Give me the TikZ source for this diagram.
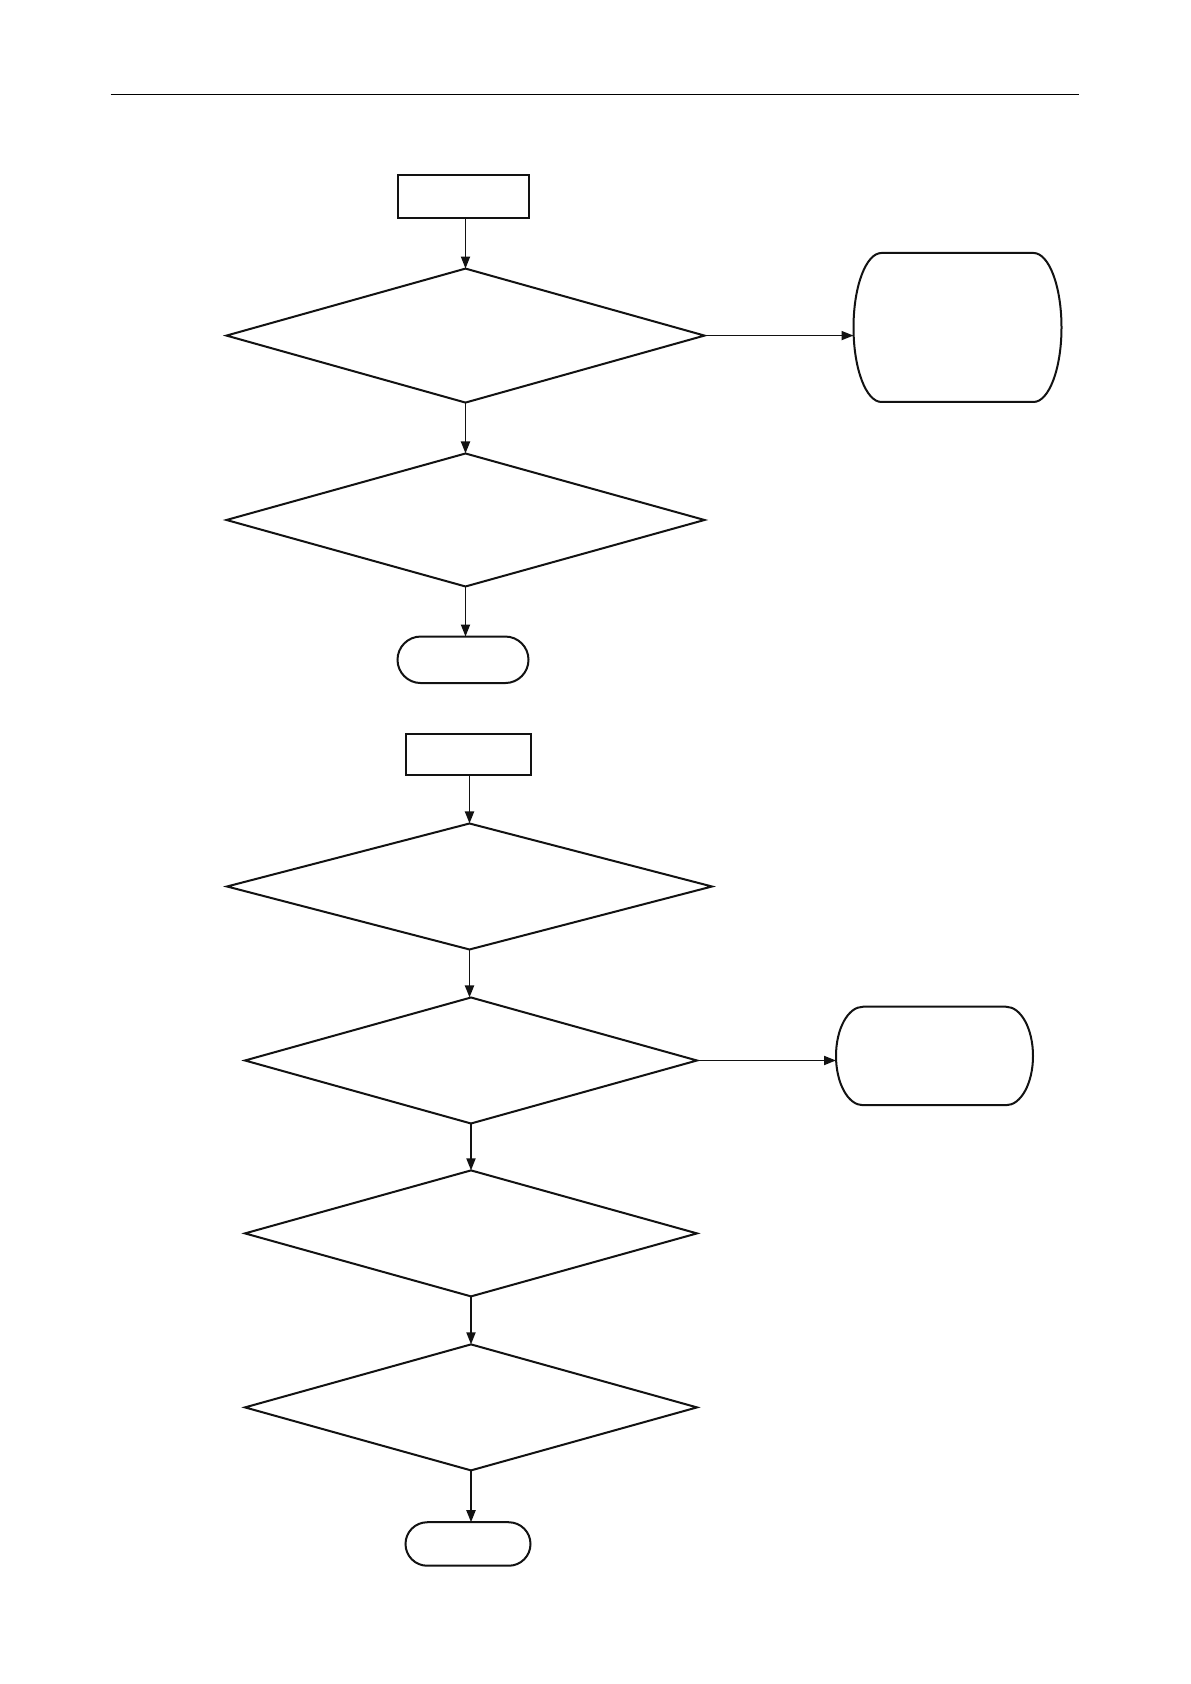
\documentclass[tikz,border=0pt]{standalone}
\usetikzlibrary{arrows.meta,calc,shapes.geometric,shapes.misc}
\definecolor{ShapeClr}{rgb}{0.07,0.07,0.07}

\begin{document}
\begin{tikzpicture}[x=1pt,y=1pt,line width=2pt,
  shapeline/.style={draw=ShapeClr,line width=2pt},
  stepbox/.style={shapeline,rectangle,inner sep=0pt,outer sep=0pt},
  testbox/.style={shapeline,diamond,inner sep=0pt,outer sep=0pt},
  termbox/.style={shapeline,rounded rectangle,inner sep=0pt,outer sep=0pt},
  resbox/.style={rectangle,inner sep=0pt,outer sep=0pt},
  flow/.style={draw=ShapeClr,line width=1.8pt,-{Triangle[length=12pt,width=9pt]}}]
\useasboundingbox (0,0) rectangle (1191,1684);

\coordinate (ruleL) at (110.6,1589.5);
\coordinate (ruleR) at (1079.3,1589.5);
\draw[line width=1.7pt] (ruleL) -- (ruleR);

\node[stepbox,minimum width=131pt,minimum height=42.5pt] (start1) at (463,1487.5) {};
\node[testbox,minimum width=478pt,minimum height=134pt] (dec1) at (465.5,1348.4) {};
\node[resbox,minimum width=208pt,minimum height=149pt] (res1) at (957.5,1356.5) {};
\node[testbox,minimum width=478pt,minimum height=133pt] (dec2) at (465.5,1164) {};
\node[termbox,minimum width=131pt,minimum height=46.5pt] (end1) at (463,1024.2) {};

\node[stepbox,minimum width=125pt,minimum height=41.5pt] (start2) at (468,929.5) {};
\node[testbox,minimum width=485pt,minimum height=126pt] (dec3) at (469.5,797.5) {};
\node[testbox,minimum width=452pt,minimum height=126pt] (dec4) at (471,623.5) {};
\node[resbox,minimum width=197pt,minimum height=98.5pt] (res2) at (934.5,628) {};
\node[testbox,minimum width=452pt,minimum height=126pt] (dec5) at (471,450.6) {};
\node[testbox,minimum width=452pt,minimum height=126pt] (dec6) at (471,276.6) {};
\node[termbox,minimum width=125pt,minimum height=43.5pt] (end2) at (468,140) {};

\draw[shapeline] ([xshift=28pt]res1.north west) -- ([xshift=-28pt]res1.north east)
  arc[start angle=90,end angle=-90,x radius=28pt,y radius=74.5pt]
  -- ([xshift=28pt]res1.south west)
  arc[start angle=270,end angle=90,x radius=28pt,y radius=74.5pt] -- cycle;
\draw[shapeline] ([xshift=27pt]res2.north west) -- ([xshift=-27pt]res2.north east)
  arc[start angle=90,end angle=-90,x radius=27pt,y radius=49.25pt]
  -- ([xshift=27pt]res2.south west)
  arc[start angle=270,end angle=90,x radius=27pt,y radius=49.25pt] -- cycle;

\draw[flow] (start1.south -| dec1.north) -- (dec1.north);
\draw[flow] (dec1.south) -- (dec2.north);
\draw[flow] (dec2.south) -- (end1.north -| dec2.south);
\draw[flow] (dec1.east) -- (dec1.east -| res1.west);

\draw[flow] (start2.south -| dec3.north) -- (dec3.north);
\draw[flow] (dec3.south) -- (dec4.north -| dec3.south);
\draw[flow] (dec4.south) -- (dec5.north);
\draw[flow] (dec5.south) -- (dec6.north);
\draw[flow] (dec6.south) -- (end2.north -| dec6.south);
\draw[flow] (dec4.east) -- (dec4.east -| res2.west);
\end{tikzpicture}
\end{document}
